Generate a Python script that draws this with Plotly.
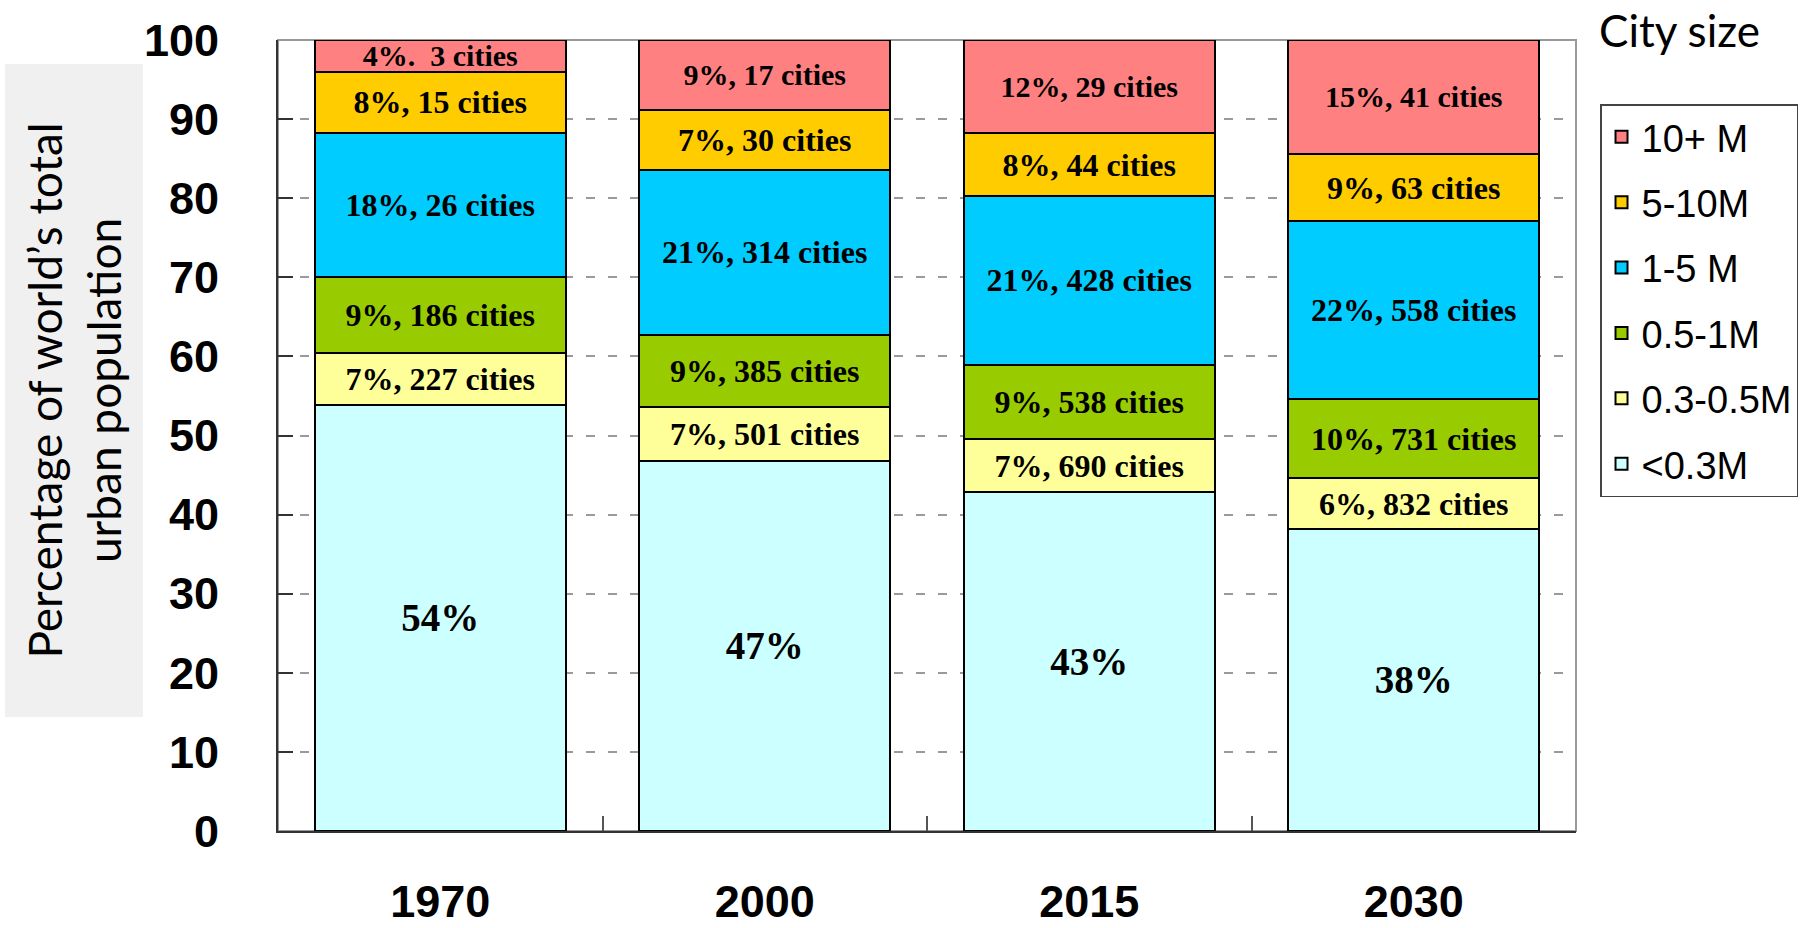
import plotly.graph_objects as go

years = ["1970", "2000", "2015", "2030"]

size_classes = ["<0.3M", "0.3-0.5M", "0.5-1M", "1-5 M", "5-10M", "10+ M"]

share_lt03 = [53.9, 46.8, 42.8, 38.2]
share_03_05 = [6.5, 6.8, 6.8, 6.4]
share_05_1 = [9.6, 9.1, 9.3, 10.0]
share_1_5 = [18.2, 20.9, 21.4, 22.5]
share_5_10 = [7.8, 7.6, 7.9, 8.5]
share_10p = [4.0, 8.8, 11.8, 14.4]

labels_lt03 = ["54%", "47%", "43%", "38%"]
labels_03_05 = ["7%, 227 cities", "7%, 501 cities", "7%, 690 cities", "6%, 832 cities"]
labels_05_1 = ["9%, 186 cities", "9%, 385 cities", "9%, 538 cities", "10%, 731 cities"]
labels_1_5 = ["18%, 26 cities", "21%, 314 cities", "21%, 428 cities", "22%, 558 cities"]
labels_5_10 = ["8%, 15 cities", "7%, 30 cities", "8%, 44 cities", "9%, 63 cities"]
labels_10p = ["4%.\u00a0 3 cities", "9%, 17 cities", "12%, 29 cities", "15%, 41 cities"]

y_ticks = [0, 10, 20, 30, 40, 50, 60, 70, 80, 90, 100]

series = [share_lt03, share_03_05, share_05_1, share_1_5, share_5_10, share_10p]
labels = [labels_lt03, labels_03_05, labels_05_1, labels_1_5, labels_5_10, labels_10p]
colors = ["#CCFFFF", "#FFFF99", "#99CC00", "#00CCFF", "#FFCC00", "#FF8080"]
label_sizes = [39, 32, 32, 32, 32, 30]

fig = go.Figure()
n = len(size_classes)
for i, (name, vals, txt, col, fs) in enumerate(zip(size_classes, series, labels, colors, label_sizes)):
    fig.add_trace(go.Bar(
        x=years, y=vals, name=name, legendgroup=name, legendrank=n - i,
        text=txt, texttemplate="<b>%{text}</b>",
        textposition="inside", insidetextanchor="middle",
        constraintext="none",
        textfont=dict(family="Liberation Serif", size=fs, color="black"),
        marker=dict(color=col, line=dict(color="black", width=2)),
        hoverinfo="skip",
    ))

fig.update_layout(
    barmode="stack",
    bargap=0.227,
    width=1810, height=928,
    margin=dict(l=278, r=234, t=40, b=97),
    plot_bgcolor="white", paper_bgcolor="white",
    showlegend=True,
    legend=dict(
        x=1.0185, y=0.919, xanchor="left", yanchor="top",
        traceorder="grouped", tracegroupgap=13,
        entrywidth=165, entrywidthmode="pixels",
        font=dict(family="Liberation Sans", size=38, color="black"),
        bordercolor="#444", borderwidth=1.5, bgcolor="white",
    ),
    uniformtext=dict(mode=False),
)

fig.update_xaxes(
    type="category", automargin=False,
    showline=True, linecolor="#333", linewidth=2,
    ticks="inside", tickson="boundaries", ticklen=15, tickcolor="#555", tickwidth=1.5,
    tickfont=dict(family="Liberation Sans", size=45, color="black", weight="bold"),
    ticklabelstandoff=30,
    showgrid=False,
)
fig.update_yaxes(
    range=[0, 100], tickvals=y_ticks, automargin=False,
    showline=True, linecolor="#333", linewidth=2,
    ticks="inside", ticklen=15, tickcolor="#333", tickwidth=1.5,
    tickfont=dict(family="Liberation Sans", size=45, color="black", weight="bold"),
    ticklabelstandoff=48,
    showgrid=True, gridcolor="#9a9a9a", gridwidth=1.5, griddash="9px,13px",
    zeroline=False,
)

# plot frame (top/right in grey)
fig.add_shape(type="rect", xref="paper", yref="paper", x0=0, x1=1, y0=0, y1=1,
              line=dict(color="#999", width=2), layer="below")

# y-axis title in grey box
fig.add_annotation(
    xref="paper", yref="paper", x=-0.1576, y=0.5575,
    xanchor="center", yanchor="middle",
    text="Percentage of world\u2019s total<br>urban population",
    textangle=-90, showarrow=False,
    width=650, height=135, bgcolor="#F0F0F0",
    font=dict(family="Lato", size=46, color="black"),
)

# legend heading
fig.add_annotation(
    xref="paper", yref="paper", x=1.0162, y=1.0126,
    xanchor="left", yanchor="middle",
    text="City size", showarrow=False,
    font=dict(family="Lato", size=44, color="black"),
)

fig.write_html(
    "out.html",
    config={"displayModeBar": False},
    post_script="document.body.style.margin='0';document.body.style.overflow='hidden';",
)
